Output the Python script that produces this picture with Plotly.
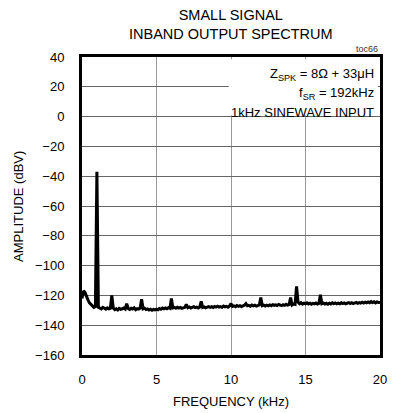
import numpy as np
import plotly.graph_objects as go

# frequency grid (kHz), 0.1 kHz steps
freq_khz = np.round(np.arange(0, 201) / 10.0, 1)

# amplitude (dBV), one row per kHz
amp_dbv = [
    -122, -117, -118, -121, -123, -125, -126, -127, -128, -127.5,
    -37, -128, -128.5, -129, -128, -128.6, -129.2, -128.4, -129, -128.7,
    -120, -128.5, -129.5, -129, -129.8, -128.7, -129.3, -129, -128.4, -129.1,
    -125.5, -128.8, -129.4, -128.6, -129.1, -128.3, -129.6, -128.9, -129.2, -128.5,
    -122.5, -129, -128.6, -129.5, -129.1, -129.8, -129.3, -130, -129.4, -129.7,
    -129.2, -129.6, -128.8, -129.3, -128.5, -129, -128.4, -128.9, -128.2, -128.7,
    -122, -128.4, -128, -128.6, -127.9, -128.5, -128.1, -128.7, -128.3, -128,
    -126, -128.3, -127.8, -128.5, -128, -127.6, -128.2, -127.9, -128.4, -127.8,
    -124, -128.1, -127.7, -128.3, -127.9, -127.5, -128, -127.6, -128.1, -127.4,
    -127.8, -127.3, -127.9, -127.5, -128, -127.2, -127.7, -127.4, -127.9, -127.1,
    -125.5, -127.4, -127, -127.6, -126.8, -127.3, -126.9, -127.5, -127, -126.6,
    -125.5, -127, -126.7, -127.3, -126.5, -127, -126.6, -127.2, -126.8, -126.4,
    -121.5, -126.9, -126.5, -127.1, -126.6, -127, -126.4, -126.9, -126.2, -126.7,
    -126.3, -126.8, -126.1, -126.6, -126.9, -126.3, -126.7, -126, -126.5, -126.2,
    -121.5, -126.5, -125.8, -126, -114, -124.5, -125.6, -124.9, -125.8, -125.2,
    -125.6, -125, -125.7, -125.2, -125.9, -125.3, -125.7, -125.1, -125.8, -125.4,
    -119.5, -125.6, -125.1, -125.8, -125.3, -125.9, -125.2, -125.7, -125, -125.5,
    -125.1, -125.7, -125.2, -125.6, -124.9, -125.5, -125, -125.6, -125.2, -124.8,
    -125.4, -124.9, -125.5, -125, -124.7, -125.3, -124.8, -125.2, -124.6, -125.1,
    -124.5, -125, -124.4, -124.9, -124.2, -124.8, -124.3, -125, -124.4, -124.7,
    -124.8,
]

x_ticks = [0, 5, 10, 15, 20]
y_ticks = [40, 20, 0, -20, -40, -60, -80, -100, -120, -140, -160]

font_family = "Liberation Sans, Arial, sans-serif"

fig = go.Figure()
fig.add_trace(go.Scatter(x=freq_khz, y=amp_dbv, mode='lines',
                         line=dict(color='black', width=3),
                         showlegend=False))

# white box behind the condition text
fig.add_shape(type='rect', x0=9.85, x1=19.85, y0=0.8, y1=38.5,
              fillcolor='white', line=dict(width=0), layer='above')

notes = ["Z<sub>SPK</sub> = 8\u03a9 + 33\u03bcH",
         "f<sub>SR</sub> = 192kHz",
         "1kHz SINEWAVE INPUT"]
note_y = [28, 15.5, 3]
for txt, yy in zip(notes, note_y):
    fig.add_annotation(x=19.75, y=yy, text=txt, showarrow=False,
                       xanchor='right', yanchor='middle',
                       font=dict(size=13, color='black', family=font_family))

fig.add_annotation(x=1, y=1, xref='paper', yref='paper', text='toc66',
                   showarrow=False, xanchor='right', yanchor='bottom', yshift=1,
                   font=dict(size=9, color='#333', family=font_family))

# title and axis titles
fig.add_annotation(x=0.5, y=1.11, xref='paper', yref='paper',
                   text="SMALL SIGNAL<br>INBAND OUTPUT SPECTRUM",
                   showarrow=False, xanchor='center', yanchor='middle',
                   font=dict(size=14.5, color='black', family=font_family))
fig.add_annotation(x=0.5, y=-0.155, xref='paper', yref='paper',
                   text='FREQUENCY (kHz)', showarrow=False,
                   xanchor='center', yanchor='middle',
                   font=dict(size=13, color='black', family=font_family))
fig.add_annotation(x=-0.215, y=0.5, xref='paper', yref='paper',
                   text='AMPLITUDE (dBV)', showarrow=False, textangle=-90,
                   xanchor='center', yanchor='middle',
                   font=dict(size=13, color='black', family=font_family))

# page body keeps an 8px margin, so the figure is 8px smaller on each side
fig.update_layout(
    width=389, height=405,
    margin=dict(l=74, r=17, t=49, b=58, autoexpand=False),
    paper_bgcolor='white', plot_bgcolor='white',
    font=dict(family=font_family, size=13, color='black'),
    xaxis=dict(range=[0, 20], tickvals=x_ticks, showgrid=True,
               gridcolor='#999', gridwidth=1, zeroline=False,
               showline=True, linecolor='black', linewidth=3, mirror=True,
               ticks='', ticklabelstandoff=10, automargin=False),
    yaxis=dict(range=[-160, 40], tickvals=y_ticks, showgrid=True,
               gridcolor='#666', gridwidth=1, zeroline=False,
               showline=True, linecolor='black', linewidth=3, mirror=True,
               ticks='', ticklabelstandoff=12, automargin=False),
)

fig.write_html("out.html")
